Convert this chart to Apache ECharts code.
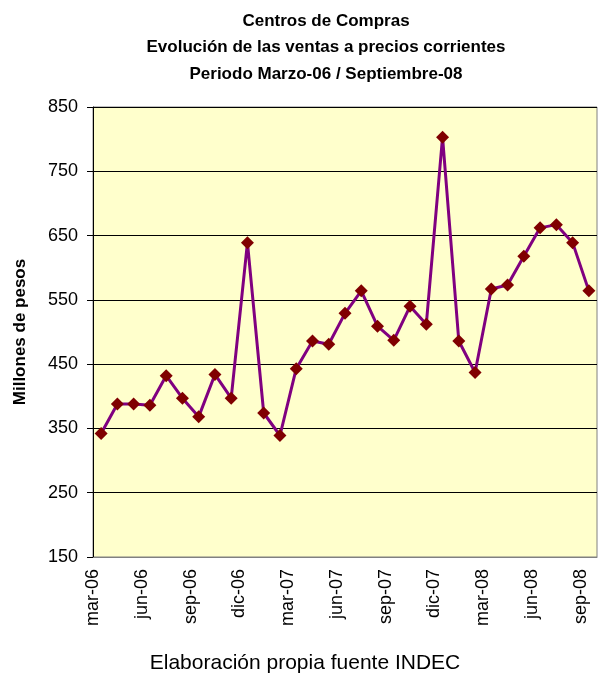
<!DOCTYPE html>
<html>
<head>
<meta charset="utf-8">
<script src="https://cdn.jsdelivr.net/npm/echarts@6/dist/echarts.min.js"></script>
<style>
  html, body { margin: 0; padding: 0; background: #fff; }
  #main { width: 598px; height: 677px; }
</style>
</head>
<body>
<div id="main"></div>
<script>
// meses mar-06 .. sep-08
const months = [
    'mar-06', 'abr-06', 'may-06', 'jun-06', 'jul-06', 'ago-06', 'sep-06', 'oct-06', 'nov-06', 'dic-06',
    'ene-07', 'feb-07', 'mar-07', 'abr-07', 'may-07', 'jun-07', 'jul-07', 'ago-07', 'sep-07', 'oct-07',
    'nov-07', 'dic-07', 'ene-08', 'feb-08', 'mar-08', 'abr-08', 'may-08', 'jun-08', 'jul-08', 'ago-08',
    'sep-08'
];

// ventas, millones de pesos
const ventas = [
    342, 388, 388, 386, 432, 397, 368, 434, 397, 639,
    374, 339, 443, 486, 481, 529, 564, 509, 487, 540,
    512, 803, 486, 437, 567, 573, 618, 662, 667, 639,
    564
];

const titleLines = [
    'Centros de Compras',
    'Evolución de las ventas a precios corrientes',
    'Periodo Marzo-06 / Septiembre-08'
];

var myChart = echarts.init(document.getElementById('main'));

const font = '"Liberation Sans", Arial, sans-serif';

let option = {
    animation: false,
    textStyle: {fontFamily: font},
    title: [
        {
            text: titleLines.join('\n'),
            left: 321,
            top: 3,
            textAlign: 'center',
            textStyle: {fontSize: 17, fontWeight: 'bold', color: '#000', lineHeight: 26.5, fontFamily: font}
        },
        {
            text: 'Elaboración propia fuente INDEC',
            left: 300,
            top: 648,
            textAlign: 'center',
            textStyle: {fontSize: 21, fontWeight: 'normal', color: '#000', fontFamily: font}
        }
    ],
    grid: {
        left: 93,
        top: 107,
        right: 1,
        bottom: 120,
        show: true,
        backgroundColor: '#FFFFCC',
        borderColor: '#808080',
        borderWidth: 1
    },
    xAxis: [
        {
            // eje de datos: un mes por banda, marcas trimestrales
            type: 'category',
            data: months,
            boundaryGap: true,
            axisLine: {lineStyle: {color: '#808080', width: 1}},
            axisTick: {interval: 2, length: 6, lineStyle: {color: '#000'}},
            axisLabel: {show: false},
            splitLine: {show: false}
        },
        {
            // etiquetas centradas sobre las marcas (inicio de cada mes)
            type: 'category',
            position: 'bottom',
            data: months.concat(['']),
            boundaryGap: false,
            axisLine: {show: false},
            axisTick: {show: false},
            axisLabel: {
                interval: 2,
                rotate: 90,
                fontSize: 18,
                color: '#000',
                margin: 12
            },
            splitLine: {show: false}
        }
    ],
    yAxis: {
        type: 'value',
        min: 150,
        max: 850,
        interval: 100,
        name: 'Millones de pesos',
        nameLocation: 'middle',
        nameGap: 64,
        nameTextStyle: {fontSize: 17, fontWeight: 'bold', color: '#000'},
        axisLine: {show: true, lineStyle: {color: '#000', width: 1}},
        axisTick: {show: true, length: 6, lineStyle: {color: '#000'}},
        axisLabel: {fontSize: 18, color: '#000', margin: 15},
        splitLine: {show: true, lineStyle: {color: '#000', width: 1}}
    },
    series: [
        {
            type: 'line',
            xAxisIndex: 0,
            data: ventas,
            symbol: 'diamond',
            symbolSize: 13,
            showAllSymbol: true,
            lineStyle: {color: '#800080', width: 3},
            itemStyle: {color: '#800000', borderWidth: 0},
            z: 3
        }
    ]
};

myChart.setOption(option);
</script>
</body>
</html>
